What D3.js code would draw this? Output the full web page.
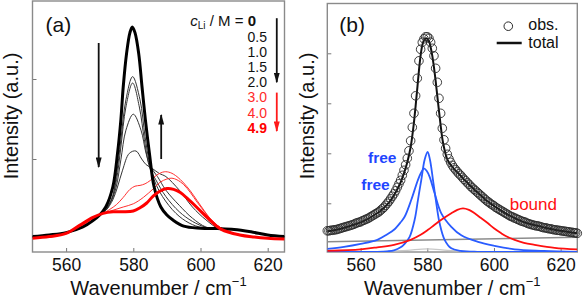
<!DOCTYPE html>
<html>
<head>
<meta charset="utf-8">
<script src="https://cdn.jsdelivr.net/npm/d3@7"></script>
<style>
  html, body { margin: 0; padding: 0; background: #fff; }
  svg { display: block; font-family: "Liberation Sans", Arial, Helvetica, sans-serif; }
</style>
</head>
<body>
<div id="chart"></div>
<script>
// ---- data (wavenumber / cm-1, intensity a.u.) ----

// panel (a): spectra for increasing Li concentration
const concLabels = ["0.5", "1.0", "1.5", "2.0", "3.0", "4.0", "4.9"];

const specM00 = [[550,0.03],[555,0.05],[560,0.08],[565,0.15],[568,0.23],[570,0.30],[571.8,0.40],[573.9,0.65],[575.3,1.07],[576.3,1.49],[577,1.90],[578,2.32],[579,2.58],[579.7,2.65],[580.5,2.58],[581.6,2.32],[582.6,1.90],[583.6,1.49],[584.8,1.07],[586.2,0.65],[588.2,0.40],[590,0.30],[591.7,0.24],[595,0.16],[600,0.135],[605,0.13],[610,0.12],[615,0.09],[620,0.05],[625,0.03]];
const specM05 = [[550,0.03],[560,0.08],[565,0.15],[570,0.30],[573.5,0.49],[574.9,0.78],[576.3,1.24],[577.8,1.74],[579.8,2.03],[582,1.74],[583.5,1.28],[584.8,0.95],[586.2,0.74],[588.7,0.53],[592.7,0.32],[596.6,0.20],[600.6,0.14],[605,0.125],[610,0.12],[615,0.09],[620,0.05],[625,0.03]];
const specM10 = [[550,0.03],[560,0.08],[565,0.15],[570,0.31],[571.4,0.34],[573.5,0.49],[575,0.74],[576.3,1.15],[577.8,1.65],[579.8,1.95],[581.8,1.65],[583.3,1.24],[584.8,0.90],[586.7,0.74],[589.7,0.53],[593.7,0.34],[597.6,0.22],[601.6,0.145],[605,0.125],[610,0.12],[615,0.09],[620,0.05],[625,0.03]];
const specM15 = [[550,0.03],[560,0.08],[565,0.15],[570,0.31],[571.4,0.34],[573.4,0.47],[574.9,0.65],[576.3,0.99],[577.8,1.36],[580,1.56],[582.3,1.36],[583.8,1.07],[585.2,0.90],[587.2,0.78],[589.7,0.61],[593.7,0.42],[597.6,0.26],[601.6,0.15],[605.5,0.125],[610,0.12],[615,0.09],[620,0.05],[625,0.03]];
const specM20 = [[550,0.03],[560,0.08],[565,0.15],[569.9,0.30],[571.9,0.36],[573.9,0.49],[575.3,0.65],[576.8,0.86],[578.8,1.07],[580.8,1.10],[582.5,1.00],[583.8,0.93],[585.7,0.88],[587.7,0.82],[589.7,0.78],[593.7,0.61],[597.6,0.40],[601.6,0.24],[605.5,0.13],[610,0.12],[615,0.09],[620,0.05],[625,0.03]];
const specM30 = [[550,0.01],[555,0.03],[560,0.07],[565,0.17],[568,0.26],[571,0.32],[573,0.37],[575,0.43],[577,0.52],[579,0.62],[580.5,0.66],[582,0.67],[583.5,0.69],[585,0.73],[587,0.80],[589.2,0.84],[591,0.83],[593,0.78],[595,0.70],[597,0.60],[599,0.48],[601,0.36],[603,0.25],[605,0.17],[607,0.12],[610,0.07],[615,0.03],[620,0.01],[625,0.0]];
const specM40 = [[550,0.01],[555,0.03],[560,0.07],[565,0.17],[568,0.26],[571,0.32],[574,0.36],[577,0.40],[580,0.44],[583,0.52],[586,0.63],[588,0.71],[590,0.75],[591.5,0.76],[593,0.74],[595,0.68],[597,0.58],[599,0.46],[601,0.35],[603,0.25],[605,0.17],[607,0.12],[610,0.07],[615,0.03],[620,0.01],[625,0.0]];
const specM49 = [[550,0.01],[555,0.03],[560,0.07],[564,0.17],[568,0.27],[571,0.32],[574,0.34],[577,0.34],[580,0.35],[582,0.39],[584,0.45],[586,0.54],[588,0.60],[590,0.63],[592,0.62],[594,0.58],[596,0.51],[598.8,0.40],[602.7,0.24],[606.2,0.12],[611.7,0.05],[616,0.025],[620,0.01],[625,0.0]];

// panel (b): observed spectrum and fitted components
const obsPts = [
  [550,0.45],[550.5,0.45],[551,0.46],[551.5,0.46],[552,0.47],[552.5,0.47],[553,0.48],[553.5,0.49],[554,0.50],[554.5,0.51],
  [555,0.52],[555.5,0.53],[556,0.54],[556.5,0.55],[557,0.56],[557.5,0.57],[558,0.58],[558.5,0.60],[559,0.61],[559.5,0.62],
  [560,0.63],[560.5,0.65],[561,0.66],[561.5,0.68],[562,0.69],[562.5,0.71],[563,0.73],[563.5,0.75],[564,0.77],[564.5,0.79],
  [565,0.81],[565.5,0.83],[566,0.86],[566.5,0.89],[567,0.92],[567.5,0.96],[568,1.00],[568.5,1.04],[569,1.09],[569.5,1.14],
  [570,1.19],[570.5,1.25],[571,1.32],[571.5,1.39],[572,1.46],[572.5,1.56],[573,1.66],[573.5,1.77],[574,1.90],[574.5,2.05],
  [575,2.25],[575.5,2.52],[576,2.80],[576.5,3.15],[577,3.50],[577.5,3.85],[578,4.08],[578.5,4.22],[579,4.29],[579.5,4.33],
  [580,4.33],[580.5,4.30],[581,4.22],[581.5,4.10],[582,3.95],[582.5,3.70],[583,3.42],[583.5,3.10],[584,2.80],[584.5,2.50],
  [585,2.27],[585.5,2.10],[586,1.98],[586.5,1.89],[587,1.82],[587.5,1.76],[588,1.71],[588.5,1.67],[589,1.63],[589.5,1.59],
  [590,1.56],[590.5,1.52],[591,1.48],[591.5,1.45],[592,1.41],[592.5,1.38],[593,1.34],[593.5,1.31],[594,1.28],[594.5,1.25],
  [595,1.22],[595.5,1.19],[596,1.16],[596.5,1.13],[597,1.10],[597.5,1.07],[598,1.04],[598.5,1.02],[599,0.99],[599.5,0.97],
  [600,0.95],[600.5,0.92],[601,0.90],[601.5,0.88],[602,0.86],[602.5,0.84],[603,0.82],[603.5,0.80],[604,0.78],[604.5,0.76],
  [605,0.74],[605.5,0.73],[606,0.71],[606.5,0.70],[607,0.68],[607.5,0.67],[608,0.65],[608.5,0.64],[609,0.63],[609.5,0.62],
  [610,0.60],[610.5,0.59],[611,0.58],[611.5,0.57],[612,0.56],[612.5,0.55],[613,0.55],[613.5,0.54],[614,0.53],[614.5,0.52],
  [615,0.51],[615.5,0.51],[616,0.50],[616.5,0.49],[617,0.49],[617.5,0.48],[618,0.47],[618.5,0.47],[619,0.46],[619.5,0.46],
  [620,0.45],[620.5,0.45],[621,0.44],[621.5,0.44],[622,0.43],[622.5,0.43],[623,0.42],[623.5,0.42],[624,0.41],[624.5,0.41],
  [625,0.40]
];
const totalFit = [[550,0.44],[552,0.46],[554,0.49],[556,0.53],[558,0.57],[560,0.62],[562,0.68],[564,0.76],[566,0.85],[567,0.91],[568,0.98],[569,1.06],[570,1.16],[571,1.28],[572,1.42],[573,1.60],[574,1.82],[575,2.12],[575.5,2.35],[576,2.62],[576.5,2.95],[577,3.30],[577.5,3.66],[578,3.96],[578.5,4.16],[579,4.26],[579.7,4.30],[580.5,4.24],[581,4.12],[581.5,3.95],[582,3.72],[582.5,3.45],[583,3.15],[583.5,2.85],[584,2.56],[584.5,2.30],[585,2.12],[585.5,1.98],[586,1.88],[587,1.77],[588,1.69],[589,1.62],[590,1.55],[592,1.41],[594,1.28],[596,1.16],[598,1.04],[600,0.95],[602,0.86],[604,0.78],[606,0.71],[608,0.65],[610,0.60],[613,0.55],[616,0.50],[619,0.46],[622,0.43],[625,0.40]];
const freeNarrow = [[550,0.03],[560,0.03],[565,0.03],[568,0.04],[570,0.06],[572,0.12],[573.2,0.19],[574.7,0.33],[576.2,0.67],[577.2,1.07],[578.2,1.47],[579.2,1.87],[580.1,2.03],[580.8,1.87],[581.7,1.47],[582.7,1.00],[583.7,0.60],[585.2,0.27],[587.2,0.10],[590,0.05],[595,0.03],[610,0.03],[625,0.03]];
const freeBroad = [[550,0.09],[555,0.13],[560,0.19],[565,0.27],[568,0.38],[570,0.47],[572,0.62],[573.2,0.73],[575.2,1.07],[577.2,1.47],[578.2,1.62],[579,1.70],[579.8,1.65],[580.7,1.53],[582.2,1.20],[584.2,0.80],[587.2,0.53],[590.2,0.36],[595.2,0.23],[600.2,0.15],[606.2,0.08],[615,0.05],[625,0.03]];
const boundFit = [[550,0.05],[560,0.08],[565,0.12],[570,0.17],[575,0.27],[578,0.37],[580.2,0.47],[582,0.56],[584.2,0.67],[587.2,0.80],[589,0.87],[590.7,0.90],[592.5,0.87],[594.2,0.80],[596,0.71],[598.2,0.60],[600,0.50],[602.2,0.40],[604,0.33],[606.2,0.27],[609,0.21],[612.2,0.17],[618.2,0.11],[625,0.08]];
const baseLine = [[550,0.23],[625,0.32]];
const minorFit = [[562,0.03],[568,0.04],[574,0.06],[580,0.09],[586,0.06],[592,0.04],[598,0.03]];

const xTicks = [560, 580, 600, 620];
const yTicksA = [1, 2];
const yTicksB = [1, 2, 3, 4];

// ---- layout ----
const W = 583, H = 300;
const A = { x0: 32.5, x1: 284.5, y0: 1, y1: 252 };
const B = { x0: 327.3, x1: 577.3, y0: 3.5, y1: 252 };

const svg = d3.select("#chart").append("svg")
  .attr("width", W).attr("height", H)
  .attr("viewBox", `0 0 ${W} ${H}`);

const xA = d3.scaleLinear().domain([550, 625]).range([A.x0, A.x1]);
const yA = d3.scaleLinear().domain([0, 2]).range([239, 79]);
const xB = d3.scaleLinear().domain([550, 625]).range([B.x0, B.x1]);
const yB = d3.scaleLinear().domain([0, 4]).range([253.3, 53.3]);

const defs = svg.append("defs");
[["clipA", A], ["clipB", B]].forEach(([id, p]) => {
  defs.append("clipPath").attr("id", id).append("rect")
    .attr("x", p.x0).attr("y", p.y0).attr("width", p.x1 - p.x0).attr("height", p.y1 - p.y0);
});
// arrow heads (long, narrow triangles)
function marker(id, col) {
  defs.append("marker").attr("id", id)
    .attr("viewBox", "0 0 18 10").attr("refX", 16).attr("refY", 5)
    .attr("markerWidth", 6).attr("markerHeight", 3.3).attr("markerUnits", "strokeWidth")
    .attr("orient", "auto")
    .append("path").attr("d", "M0,0 L18,5 L0,10 Z").attr("fill", col);
}
marker("headK", "#111");
marker("headR", "#ff1a1a");

function axes(p, x, y, yt) {
  const gx = svg.append("g").attr("transform", `translate(0,${p.y1})`)
    .call(d3.axisBottom(x).tickValues(xTicks).tickSize(-4).tickPadding(6.6).tickFormat(d3.format("d")));
  gx.select(".domain").remove();
  gx.selectAll("line").attr("stroke", "#777");
  gx.selectAll("text").attr("font-size", 17.5).attr("fill", "#111")
    .attr("font-family", '"Liberation Sans", Arial, sans-serif');
  const gy = svg.append("g").attr("transform", `translate(${p.x0},0)`)
    .call(d3.axisLeft(y).tickValues(yt).tickSize(-4).tickFormat(""));
  gy.select(".domain").remove();
  gy.selectAll("line").attr("stroke", "#777");
  svg.append("rect")
    .attr("x", p.x0).attr("y", p.y0).attr("width", p.x1 - p.x0).attr("height", p.y1 - p.y0)
    .attr("fill", "none").attr("stroke", "#8a8a8a").attr("stroke-width", 1.4);
}

function titles(p, yx) {
  const t = svg.append("text")
    .attr("x", (p.x0 + p.x1) / 2).attr("y", 294.5)
    .attr("text-anchor", "middle").attr("font-size", 20).attr("fill", "#111");
  t.append("tspan").text("Wavenumber / cm");
  t.append("tspan").attr("font-size", 13).attr("dy", -8.5).text("\u22121");
  svg.append("text")
    .attr("transform", `translate(${yx},116) rotate(-90)`)
    .attr("text-anchor", "middle").attr("font-size", 20).attr("fill", "#111")
    .text("Intensity (a.u.)");
}

// ---- panel (a) ----
axes(A, xA, yA, yTicksA);
const lineA = d3.line().x(d => xA(d[0])).y(d => yA(d[1])).curve(d3.curveCatmullRom.alpha(0.5));
const gA = svg.append("g").attr("clip-path", "url(#clipA)");
const seriesA = [
  { d: specM05, c: "#333", w: 1 },
  { d: specM10, c: "#333", w: 1 },
  { d: specM15, c: "#333", w: 1 },
  { d: specM20, c: "#333", w: 1 },
  { d: specM30, c: "#ff3030", w: 1 },
  { d: specM40, c: "#ff3030", w: 1 },
  { d: specM00, c: "#000", w: 3 },
  { d: specM49, c: "#ff0000", w: 3 }
];
gA.selectAll("path.spec").data(seriesA).join("path")
  .attr("class", "spec")
  .attr("d", s => lineA(s.d))
  .attr("fill", "none").attr("stroke", s => s.c).attr("stroke-width", s => s.w)
  .attr("stroke-linejoin", "round");

// trend arrows
function arrow(xs, ys, w0, v0, v1, col, head) {
  svg.append("line")
    .attr("x1", xs(w0)).attr("x2", xs(w0)).attr("y1", ys(v0)).attr("y2", ys(v1))
    .attr("stroke", col).attr("stroke-width", 1.8).attr("marker-end", `url(#${head})`);
}
arrow(xA, yA, 569.7, 2.45, 0.90, "#111", "headK");
arrow(xA, yA, 588.3, 1.0, 1.55, "#111", "headK");
arrow(xA, yA, 622.7, 2.76, 1.96, "#111", "headK");
arrow(xA, yA, 622.7, 1.83, 1.35, "#ff1a1a", "headR");

// concentration legend
const cl = svg.append("text").attr("x", 256).attr("y", 26.3)
  .attr("text-anchor", "end").attr("font-size", 15).attr("fill", "#111");
cl.append("tspan").attr("font-style", "italic").text("c");
cl.append("tspan").attr("font-size", 10).attr("dy", 3).text("Li");
cl.append("tspan").attr("dy", -3).text(" / M = ");
cl.append("tspan").attr("font-weight", "bold").text("0");

svg.selectAll("text.conc").data(concLabels).join("text")
  .attr("class", "conc")
  .attr("x", 247.5).attr("y", (d, i) => 41.5 + i * 15.2)
  .attr("font-size", 14)
  .attr("font-weight", d => d === "4.9" ? "bold" : "normal")
  .attr("fill", (d, i) => i < 4 ? "#111" : (d === "4.9" ? "#ff0000" : "#ff2a2a"))
  .text(d => d);

svg.append("text").attr("x", 45.5).attr("y", 31.5).attr("font-size", 21).attr("fill", "#111").text("(a)");
titles(A, 17.5);

// ---- panel (b) ----
axes(B, xB, yB, yTicksB);
const lineB = d3.line().x(d => xB(d[0])).y(d => yB(d[1])).curve(d3.curveCatmullRom.alpha(0.5));
const gB = svg.append("g").attr("clip-path", "url(#clipB)");
gB.append("path").attr("d", lineB(minorFit)).attr("fill", "none").attr("stroke", "#c8c8c8").attr("stroke-width", 1.2);
gB.append("path").attr("d", lineB(baseLine)).attr("fill", "none").attr("stroke", "#8c8c8c").attr("stroke-width", 1.4);
gB.append("path").attr("d", lineB(freeBroad)).attr("fill", "none").attr("stroke", "#2a5cff").attr("stroke-width", 1.8);
gB.append("path").attr("d", lineB(freeNarrow)).attr("fill", "none").attr("stroke", "#2a5cff").attr("stroke-width", 1.8);
gB.append("path").attr("d", lineB(boundFit)).attr("fill", "none").attr("stroke", "#ff1010").attr("stroke-width", 1.8);

svg.append("g").selectAll("circle").data(obsPts).join("circle")
  .attr("cx", d => xB(d[0])).attr("cy", d => yB(d[1])).attr("r", 4.3)
  .attr("fill", "none").attr("stroke", "#2a2a2a").attr("stroke-width", 0.9);

gB.append("path").attr("d", lineB(totalFit)).attr("fill", "none").attr("stroke", "#111").attr("stroke-width", 2);

svg.append("text").attr("x", 368).attr("y", 163.3).attr("font-size", 15.5).attr("font-weight", "bold")
  .attr("fill", "#1f45ff").text("free");
svg.append("text").attr("x", 361.3).attr("y", 190).attr("font-size", 15.5).attr("font-weight", "bold")
  .attr("fill", "#1f45ff").text("free");
svg.append("text").attr("x", 509.7).attr("y", 210).attr("font-size", 17).attr("fill", "#ff1010").text("bound");

// legend (b)
svg.append("circle").attr("cx", 508.3).attr("cy", 26.2).attr("r", 4.3)
  .attr("fill", "none").attr("stroke", "#2a2a2a").attr("stroke-width", 1);
svg.append("text").attr("x", 528.3).attr("y", 30).attr("font-size", 16).attr("fill", "#111").text("obs.");
svg.append("line").attr("x1", 496.7).attr("x2", 521.7).attr("y1", 43).attr("y2", 43)
  .attr("stroke", "#111").attr("stroke-width", 2.5);
svg.append("text").attr("x", 528.3).attr("y", 48).attr("font-size", 16).attr("fill", "#111").text("total");

svg.append("text").attr("x", 339.3).attr("y", 32).attr("font-size", 21).attr("fill", "#111").text("(b)");
titles(B, 313.5);
</script>
</body>
</html>
